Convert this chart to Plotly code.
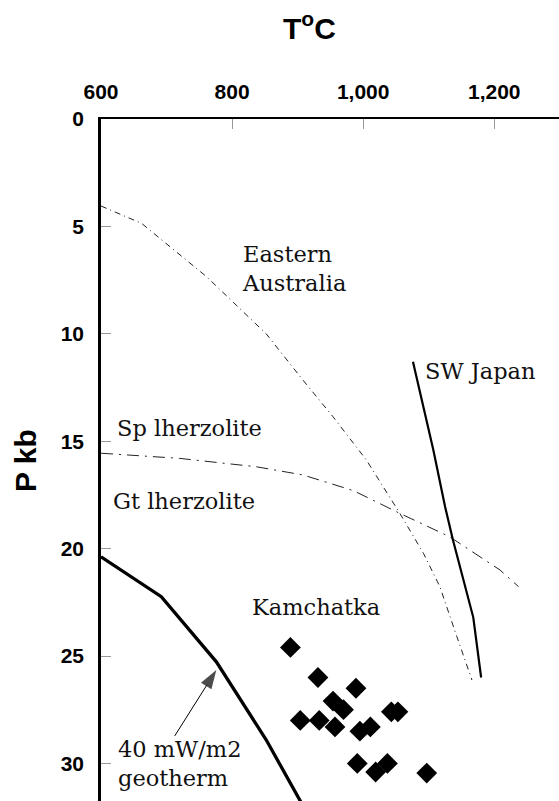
import plotly.graph_objects as go

# ---- data ----
x_ticks = [600, 800, 1000, 1200]
x_ticktext = ["600", "800", "1,000", "1,200"]
y_ticks = [0, 5, 10, 15, 20, 25, 30]

# Kamchatka xenolith P-T estimates
kam_T = [889, 931, 989, 954, 970, 904, 933, 957, 1043, 1053, 995, 1011, 991, 1019, 1037, 1097]
kam_P = [24.6, 26.0, 26.5, 27.1, 27.5, 28.0, 28.0, 28.3, 27.6, 27.6, 28.5, 28.3, 30.0, 30.4, 30.0, 30.45]

# Eastern Australia geotherm
ea_T = [600, 662, 761, 852, 908, 954, 1005, 1056, 1092, 1117, 1143, 1166]
ea_P = [4.05, 4.86, 7.34, 10.0, 12.15, 13.86, 15.88, 18.36, 20.22, 21.77, 24.1, 26.12]

# Spinel / garnet lherzolite transition
sg_T = [600, 720, 837, 908, 985, 1056, 1132, 1209, 1237]
sg_P = [15.56, 15.8, 16.19, 16.57, 17.3, 18.36, 19.45, 21.0, 21.77]

# SW Japan geotherm
sw_T = [1076, 1107, 1125, 1137, 1168, 1180]
sw_P = [11.3, 15.4, 18.05, 19.6, 23.2, 26.0]

# 40 mW/m2 geotherm
gt40_T = [600, 692, 776, 852, 905, 915]
gt40_P = [20.38, 22.24, 25.27, 28.9, 31.8, 32.4]

# arrow from label to the 40 mW/m2 geotherm (tail, head)
arrow_T = [712.5, 776]
arrow_P = [28.72, 25.65]

W, H = 559, 801
L, T = 101, 119
X_RANGE = [600, 1298.8]
Y_RANGE = [31.75, 0]

fig = go.Figure()

fig.add_trace(go.Scatter(x=ea_T, y=ea_P, mode="lines",
                         line=dict(color="#222", width=1, dash="6px,4px,1px,4px"),
                         hoverinfo="skip"))
fig.add_trace(go.Scatter(x=sg_T, y=sg_P, mode="lines",
                         line=dict(color="#222", width=1, dash="12px,6px,2px,6px"),
                         hoverinfo="skip"))
fig.add_trace(go.Scatter(x=sw_T, y=sw_P, mode="lines",
                         line=dict(color="black", width=2.2),
                         hoverinfo="skip"))
fig.add_trace(go.Scatter(x=gt40_T, y=gt40_P, mode="lines",
                         line=dict(color="black", width=3.3),
                         hoverinfo="skip"))
fig.add_trace(go.Scatter(x=kam_T, y=kam_P, mode="markers",
                         marker=dict(symbol="diamond", size=16, color="black",
                                     line=dict(width=0)),
                         hoverinfo="skip"))
fig.add_trace(go.Scatter(x=arrow_T, y=arrow_P, mode="lines+markers",
                         line=dict(color="black", width=1),
                         marker=dict(symbol="arrow", size=[0, 20], angleref="previous",
                                     color="black", line=dict(width=0)),
                         hoverinfo="skip"))

serif = dict(family="DejaVu Serif", size=22.5, color="#111")

labels = [
    ("Eastern<br>Australia", 812, 6.98),
    ("SW Japan", 1091, 11.73),
    ("Sp lherzolite", 621, 14.39),
    ("Gt lherzolite", 616, 17.78),
    ("Kamchatka", 828, 22.72),
    ("40 mW/m2<br>geotherm", 623, 30.0),
]
for txt, x, y in labels:
    fig.add_annotation(x=x, y=y, xref="x", yref="y", text=txt, showarrow=False,
                       xanchor="left", yanchor="middle", align="left", font=serif)

bold = dict(family="Liberation Sans", size=30, color="black")
fig.add_annotation(x=(309 - L) / (W - L), y=(H - 26) / (H - T), xref="paper", yref="paper",
                   text="<b>T<sup>o</sup>C</b>", showarrow=False,
                   xanchor="center", yanchor="middle", font=bold)
fig.add_annotation(x=(25 - L) / (W - L), y=(H - 461) / (H - T), xref="paper", yref="paper",
                   text="<b>P kb</b>", showarrow=False, textangle=-90,
                   xanchor="center", yanchor="middle", font=bold)

fig.update_layout(
    width=W, height=H,
    margin=dict(l=L, r=0, t=T, b=0, pad=0),
    paper_bgcolor="white", plot_bgcolor="white",
    showlegend=False,
    font=dict(family="Liberation Sans"),
)
fig.update_xaxes(
    side="top", range=X_RANGE, tickvals=x_ticks, ticktext=x_ticktext,
    showgrid=False, zeroline=False, showline=True, linecolor="black", linewidth=2,
    ticks="inside", ticklen=10, tickwidth=1, tickcolor="#999",
    tickfont=dict(family="Liberation Sans", size=21, color="black", weight="bold"),
    ticklabelstandoff=10, automargin=False,
)
fig.update_yaxes(
    range=Y_RANGE, tickvals=y_ticks,
    showgrid=False, zeroline=False, showline=True, linecolor="black", linewidth=2.5,
    ticks="inside", ticklen=10, tickwidth=1, tickcolor="#999",
    tickfont=dict(family="Liberation Sans", size=21, color="black", weight="bold"),
    ticklabelstandoff=10, automargin=False,
)

fig.write_html("out.html")
